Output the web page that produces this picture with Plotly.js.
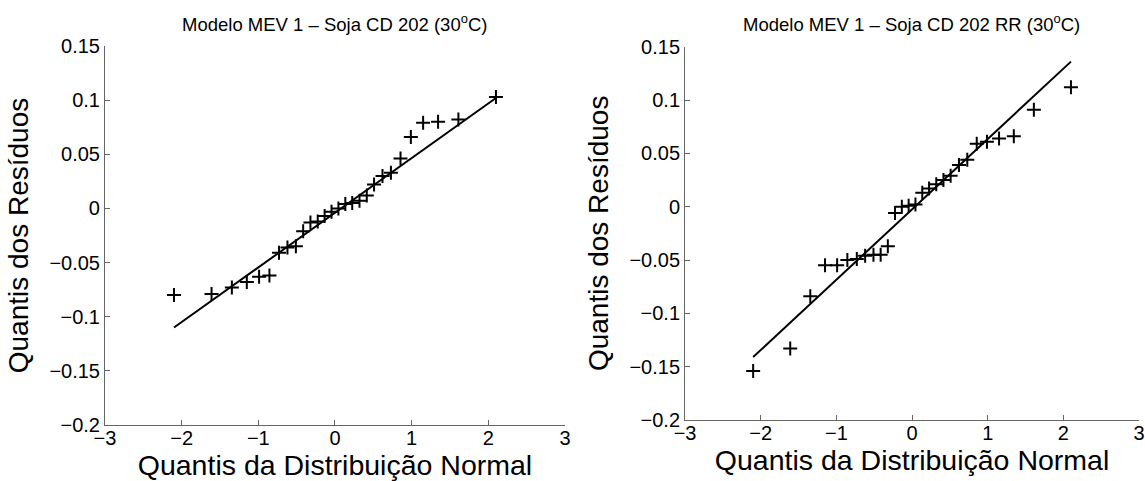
<!DOCTYPE html>
<html>
<head>
<meta charset="utf-8">
<script src="https://cdn.plot.ly/plotly-3.0.1.min.js"></script>
<style>html,body{margin:0;padding:0;background:#fff;}#chart{width:1145px;height:481px;}</style>
</head>
<body>
<div id="chart"></div>
<script>
// Theoretical normal quantiles (x) shared by both panels
const qNormal = [-2.10, -1.61, -1.345, -1.15, -0.99, -0.855, -0.73, -0.62, -0.51, -0.415, -0.32, -0.225, -0.135, -0.045,
                 0.045, 0.135, 0.225, 0.32, 0.415, 0.51, 0.62, 0.73, 0.855, 0.99, 1.15, 1.345, 1.61, 2.10];
// Residual quantiles, Soja CD 202
const residCD202 = [-0.080, -0.079, -0.073, -0.068, -0.063, -0.062, -0.041, -0.036, -0.035, -0.021, -0.013, -0.012, -0.007, -0.003,
                    0.000, 0.004, 0.005, 0.007, 0.012, 0.022, 0.030, 0.033, 0.046, 0.066, 0.079, 0.080, 0.082, 0.103];
// Residual quantiles, Soja CD 202 RR
const residCD202RR = [-0.154, -0.133, -0.084, -0.055, -0.055, -0.050, -0.049, -0.046, -0.045, -0.045, -0.037, -0.006, 0.000, 0.001,
                      0.002, 0.013, 0.017, 0.021, 0.025, 0.029, 0.039, 0.044, 0.059, 0.061, 0.064, 0.066, 0.091, 0.112];
// Reference lines (end points)
const lineX = [-2.10, 2.10];
const lineCD202 = [-0.110, 0.102];
const lineCD202RR = [-0.141, 0.136];
// Ticks and texts
const xTicks = [-3, -2, -1, 0, 1, 2, 3];
const yTicks = [-0.2, -0.15, -0.1, -0.05, 0, 0.05, 0.1, 0.15];
const yTickText = ['\u22120.2', '\u22120.15', '\u22120.1', '\u22120.05', '0', '0.05', '0.1', '0.15'];
const xTickText = ['\u22123', '\u22122', '\u22121', '0', '1', '2', '3'];
const titles = ['Modelo MEV 1 \u2013 Soja CD 202 (30<sup>o</sup>C)', 'Modelo MEV 1 \u2013 Soja CD 202 RR (30<sup>o</sup>C)'];
const xTitle = 'Quantis da Distribui\u00e7\u00e3o Normal';
const yTitle = 'Quantis dos Res\u00edduos';

const FONT = 'Liberation Sans, Arial, Helvetica, sans-serif';
const markerStyle = {symbol: 'cross-thin-open', size: 10, color: '#000', line: {color: '#000', width: 2}};

const traces = [
  {x: qNormal, y: residCD202, type: 'scatter', mode: 'markers', marker: markerStyle, xaxis: 'x', yaxis: 'y'},
  {x: lineX, y: lineCD202, type: 'scatter', mode: 'lines', line: {color: '#000', width: 2}, xaxis: 'x', yaxis: 'y'},
  {x: qNormal, y: residCD202RR, type: 'scatter', mode: 'markers', marker: markerStyle, xaxis: 'x2', yaxis: 'y2'},
  {x: lineX, y: lineCD202RR, type: 'scatter', mode: 'lines', line: {color: '#000', width: 2}, xaxis: 'x2', yaxis: 'y2'}
];

function xAxis(domain, anchor) {
  return {
    domain: domain, anchor: anchor, range: [-3, 3], tickvals: xTicks, ticktext: xTickText,
    showline: true, linecolor: '#666', linewidth: 1, mirror: false,
    ticks: 'inside', ticklen: 5, tickcolor: '#666', tickwidth: 1,
    showgrid: false, zeroline: false, automargin: false,
    ticklabeloverflow: 'allow', ticklabelstandoff: -5,
    tickfont: {family: FONT, size: 20, color: '#000'},
    title: {text: xTitle, font: {family: FONT, size: 28.5, color: '#000'}, standoff: 0}
  };
}
function yAxis(domain, anchor) {
  return {
    domain: domain, anchor: anchor, range: [-0.2, 0.15], tickvals: yTicks, ticktext: yTickText,
    showline: true, linecolor: '#666', linewidth: 1, mirror: false,
    ticks: 'inside', ticklen: 5, tickcolor: '#666', tickwidth: 1,
    showgrid: false, zeroline: false, automargin: false,
    ticklabeloverflow: 'allow',
    tickfont: {family: FONT, size: 20, color: '#000'},
    title: {text: yTitle, font: {family: FONT, size: 28, color: '#000'}, standoff: 12}
  };
}

const layout = {
  width: 1145, height: 481,
  margin: {l: 0, r: 0, t: 0, b: 0},
  paper_bgcolor: '#fff', plot_bgcolor: '#fff',
  showlegend: false,
  xaxis: xAxis([0.0917, 0.4934], 'y'),
  yaxis: yAxis([0.1164, 0.9044], 'x'),
  xaxis2: xAxis([0.5983, 0.9948], 'y2'),
  yaxis2: yAxis([0.1268, 0.9029], 'x2'),
  annotations: [
    {text: titles[0], xref: 'paper', yref: 'paper', x: 0.2925, y: 0.952, xanchor: 'center', yanchor: 'middle',
     showarrow: false, font: {family: FONT, size: 18.5, color: '#000'}},
    {text: titles[1], xref: 'paper', yref: 'paper', x: 0.7965, y: 0.952, xanchor: 'center', yanchor: 'middle',
     showarrow: false, font: {family: FONT, size: 18.5, color: '#000'}}
  ]
};

Plotly.newPlot('chart', traces, layout, {displayModeBar: false, staticPlot: true});
</script>
</body>
</html>
